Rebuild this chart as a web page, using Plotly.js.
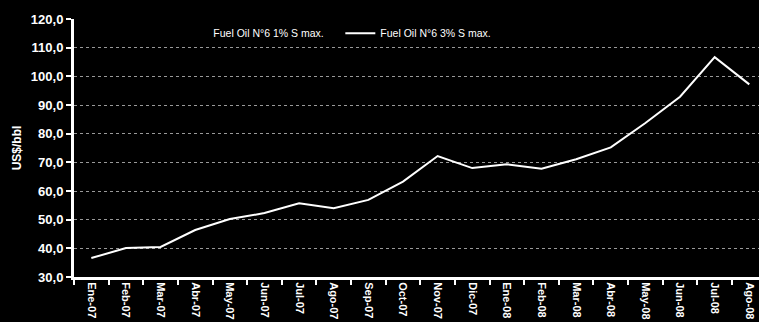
<!DOCTYPE html>
<html>
<head>
<meta charset="utf-8">
<script src="https://cdn.plot.ly/plotly-3.0.1.min.js"></script>
<style>html,body{margin:0;padding:0;background:#000;}#chart{width:759px;height:322px;}</style>
</head>
<body>
<div id="chart"></div>
<script>
const months = ["Ene-07","Feb-07","Mar-07","Abr-07","May-07","Jun-07","Jul-07","Ago-07","Sep-07","Oct-07","Nov-07","Dic-07","Ene-08","Feb-08","Mar-08","Abr-08","May-08","Jun-08","Jul-08","Ago-08"];
const fuel1Name = "Fuel Oil N°6 1% S max.";
const fuel1Values = [null,null,null,null,null,null,null,null,null,null,null,null,null,null,null,null,null,null,null,null];
const fuel3Name = "Fuel Oil N°6 3% S max.";
const fuel3Values = [36.6,40.1,40.5,46.4,50.2,52.3,55.7,54.0,56.9,63.3,72.2,68.0,69.3,67.8,71.1,75.2,83.7,92.9,106.7,97.2];
const yTicks = [30,40,50,60,70,80,90,100,110,120];
const gridTicks = [40,50,60,70,80,90,100,110];

const font = "Liberation Sans, Arial, sans-serif";
const traces = [
  {type:"scatter", mode:"lines", name:fuel1Name, x:months, y:fuel1Values,
   line:{color:"#000000", width:2}},
  {type:"scatter", mode:"lines", name:fuel3Name, x:months, y:fuel3Values,
   line:{color:"#ffffff", width:2}}
];
const layout = {
  width:759, height:322,
  margin:{l:74, r:0, t:19, b:45},
  paper_bgcolor:"#000", plot_bgcolor:"#000",
  separators:",.",
  showlegend:true,
  legend:{orientation:"h", x:0.145, y:0.945, xanchor:"left", yanchor:"middle", entrywidth:122,
          bgcolor:"rgba(0,0,0,0)", font:{family:font, size:10.5, color:"#fff"}, itemwidth:30},
  xaxis:{type:"category", range:[-0.5,19.28], showline:true, linecolor:"#fff", linewidth:3,
         ticks:"outside", tickson:"boundaries", ticklen:5, tickcolor:"#fff", tickwidth:2,
         tickangle:90, showgrid:false, zeroline:false,
         tickfont:{family:font, size:11, color:"#fff", weight:"bold"}},
  yaxis:{range:[30,120], tickvals:yTicks, tickformat:".1f", showline:true, linecolor:"#fff", linewidth:3,
         ticks:"outside", ticklen:5, tickcolor:"#fff", tickwidth:2,
         showgrid:false, zeroline:false,
         tickfont:{family:font, size:13, color:"#fff", weight:"bold"},
         title:{text:"US$/bbl", font:{family:font, size:12, color:"#fff", weight:"bold"}, standoff:7}},
  yaxis2:{range:[30,120], overlaying:"y", side:"left", tickvals:gridTicks, showticklabels:false,
          ticks:"", showline:false, zeroline:false,
          showgrid:true, gridcolor:"rgba(255,255,255,0.6)", griddash:"dot", gridwidth:1}
};
traces.push({type:"scatter", mode:"lines", x:[], y:[], yaxis:"y2", showlegend:false, hoverinfo:"skip"});
Plotly.newPlot("chart", traces, layout, {displayModeBar:false, staticPlot:true});
</script>
</body>
</html>
